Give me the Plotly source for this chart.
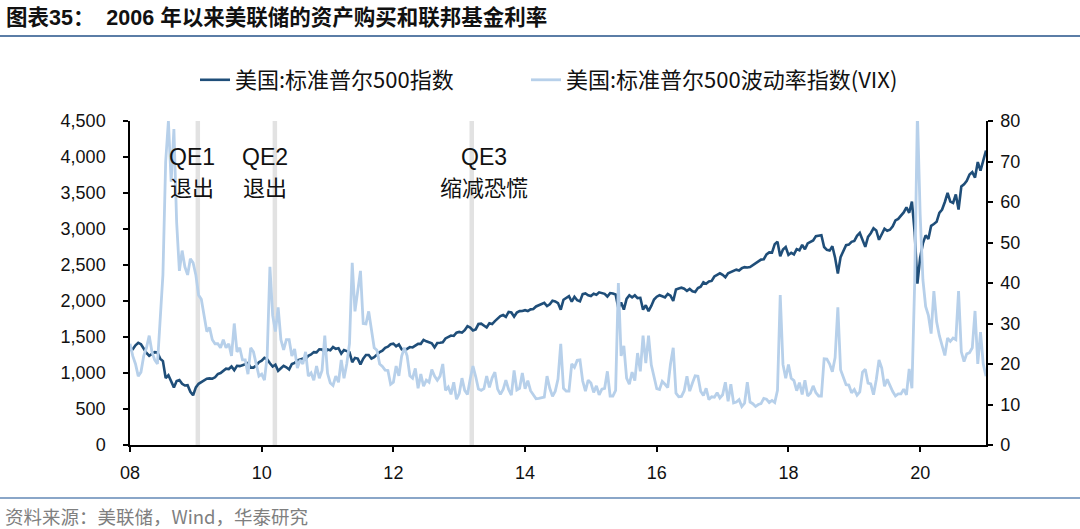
import plotly.graph_objects as go

# ---------------- data ----------------
start_year = 2008          # first sample sits on the "08" tick
steps_per_year = 24        # semi-monthly samples

# 美国:标准普尔500指数 (left axis)
spx = [
    # 2008
    1320, 1330, 1385, 1420, 1400, 1340, 1280, 1240, 1260, 1290, 1285, 1200, 1166, 930, 968, 880, 800, 890, 903,
    # 2009
    850, 826, 830, 740, 690, 800, 850, 870, 890, 920, 925, 920, 940, 985, 1000, 1025, 1060, 1055, 1090, 1040, 1100, 1095, 1105, 1120,
    # 2010
    1140, 1075, 1075, 1105, 1150, 1170, 1210, 1190, 1135, 1090, 1115, 1030, 1065, 1100, 1080, 1050, 1125, 1140, 1175, 1185, 1200, 1190, 1240, 1258,
    # 2011
    1290, 1286, 1330, 1327, 1280, 1326, 1315, 1360, 1335, 1345, 1270, 1320, 1310, 1290, 1150, 1210, 1200, 1120, 1200, 1250, 1250, 1200, 1220, 1257,
    # 2012
    1290, 1310, 1350, 1365, 1400, 1408, 1370, 1398, 1330, 1310, 1330, 1360, 1355, 1380, 1405, 1405, 1460, 1440, 1430, 1412, 1355, 1416, 1420, 1426,
    # 2013
    1480, 1500, 1520, 1515, 1560, 1570, 1560, 1595, 1650, 1630, 1590, 1606, 1680, 1685, 1660, 1632, 1690, 1680, 1720, 1756, 1790, 1805, 1780, 1848,
    # 2014
    1840, 1782, 1840, 1859, 1860, 1872, 1860, 1884, 1890, 1924, 1940, 1960, 1975, 1930, 1955, 2003, 1995, 1972, 1880, 2018, 2040, 2068, 1990, 2059,
    # 2015
    2010, 1995, 2095, 2105, 2080, 2068, 2100, 2086, 2120, 2107, 2100, 2063, 2110, 2104, 2090, 1900, 1980, 1881, 2030, 2079, 2050, 2080, 2040, 2044,
    # 2016
    1880, 1940, 1860, 1932, 2020, 2060, 2080, 2065, 2050, 2097, 2075, 2000, 2160, 2174, 2185, 2171, 2140, 2168, 2135, 2126, 2180, 2199, 2260, 2239,
    # 2017
    2270, 2279, 2340, 2364, 2385, 2363, 2330, 2384, 2400, 2412, 2435, 2423, 2455, 2470, 2465, 2471, 2500, 2519, 2555, 2575, 2580, 2647, 2675, 2673,
    # 2018
    2790, 2824, 2620, 2714, 2750, 2640, 2670, 2648, 2720, 2705, 2780, 2718, 2800, 2816, 2840, 2901, 2905, 2913, 2750, 2711, 2700, 2760, 2600, 2380,
    # 2019
    2610, 2704, 2775, 2784, 2822, 2834, 2905, 2945, 2850, 2752, 2890, 2941, 3010, 2980, 2850, 2926, 3005, 2976, 2990, 3037, 3120, 3141, 3190, 3230,
    # 2020
    3300, 3225, 3380, 2954, 2240, 2600, 2800, 2912, 2860, 3044, 3070, 3100, 3225, 3271, 3375, 3500, 3380, 3363, 3480, 3270, 3590, 3622, 3670, 3756,
    # 2021
    3790, 3714, 3930, 3811, 3950, 4090,
]

# 美国:标准普尔500波动率指数(VIX) (right axis)
vix = [
    # 2008
    25, 22, 20, 17, 18, 22, 24, 27, 23, 21, 20, 30, 42, 70, 80, 65, 78, 55, 43,
    # 2009
    48, 44, 42, 46, 45, 42, 37, 36, 32, 28, 29, 26, 25, 25, 24, 26, 24, 25, 22, 30, 23, 24, 21, 21,
    # 2010
    17.5, 24, 23, 20, 17, 17.5, 16, 22, 44, 32, 28, 34, 26, 23.5, 26, 26, 22, 23.7, 19, 21, 20, 23, 17, 17.8,
    # 2011
    16, 19.5, 16.5, 18.4, 27, 17.7, 15.3, 14.7, 17, 15.5, 21, 16.5, 20, 25, 45, 33, 38, 43, 30, 29.9, 33, 27.8, 24, 23.4,
    # 2012
    20, 19.4, 18.5, 18.4, 15, 15.5, 19.5, 17.1, 21.9, 24, 22, 17.1, 16.5, 18.9, 14, 17.5, 14.5, 16, 15.5, 18.6, 17, 16, 17, 20,
    # 2013
    13.5, 14.3, 12.5, 15.5, 11.3, 12.7, 16.5, 13.5, 12.5, 16.3, 19.5, 16.9, 13.8, 13.5, 13.9, 17, 14.2, 16.6, 18, 13.8, 12.5, 13.7, 16, 13.7,
    # 2014
    12.3, 18.4, 13.6, 14, 17.8, 13.9, 15.9, 13.4, 12.4, 11.4, 11.5, 11.6, 11.8, 17, 14, 12, 13.3, 16.3, 25, 14, 13.3, 13.3, 20, 19.2,
    # 2015
    20.9, 21, 15.8, 13.3, 16, 15.3, 13, 14.6, 12.4, 13.8, 14, 18.2, 12.1, 12.1, 13.5, 40, 22, 24.5, 16.5, 15, 18, 15.9, 22.7, 18.2,
    # 2016
    27, 20.2, 27, 19.8, 16.5, 13.9, 13.7, 15.7, 15, 14.2, 20, 24, 12.8, 11.9, 12, 13.4, 17, 13.3, 15.3, 17.1, 17, 13.3, 12.2, 14,
    # 2017
    11.2, 11.9, 11.8, 12.9, 11.6, 12.4, 15.5, 10.8, 15, 10.4, 10.6, 11.2, 9.5, 10.3, 15.5, 10.6, 10.2, 9.5, 10, 10.2, 11.5, 11.3, 10.5, 11,
    # 2018
    10.5, 13.5, 37, 19.9, 16.5, 19.9, 16.5, 15.9, 13.4, 15.4, 12.5, 16, 12.1, 12.8, 14.6, 12.9, 12.1, 12.1, 21.3, 21.2, 20, 18.1, 21.6, 34,
    # 2019
    18.6, 16.6, 14.9, 14.8, 12.9, 13.7, 12.3, 13.1, 18, 18.7, 15.3, 15.1, 12.4, 16.1, 21, 19, 14.5, 16.2, 14.6, 13.2, 12.1, 12.6, 12.6, 13.8,
    # 2020
    12.4, 18.8, 14, 40, 82, 57, 40.8, 34.2, 32, 27.5, 38, 30.4, 27, 24.5, 22.1, 26.4, 25.6, 26.4, 26, 38, 23, 20.6, 22.5, 22.8,
    # 2021
    24, 33.1, 20, 27.9, 20, 17,
]

x_tick_years = [2008, 2010, 2012, 2014, 2016, 2018, 2020]
x_tick_text = ["08", "10", "12", "14", "16", "18", "20"]
x_end_year = 2021

left_ticks = [0, 500, 1000, 1500, 2000, 2500, 3000, 3500, 4000, 4500]
right_ticks = [0, 10, 20, 30, 40, 50, 60, 70, 80]

qe_names = ["QE1", "QE2", "QE3"]
qe_notes = ["退出", "退出", "缩减恐慌"]
qe_band_years = [2009.03, 2010.20, 2013.19]
qe_label_years = [2008.94, 2010.05, 2013.37]

series_names = ["美国:标准普尔500指数", "美国:标准普尔500波动率指数(VIX)"]
title_text = "图表35：  2006 年以来美联储的资产购买和联邦基金利率"
source_text = "资料来源：美联储，Wind，华泰研究"

# ---------------- figure ----------------
t_spx = [start_year + i / steps_per_year for i in range(len(spx))]
t_vix = [start_year + i / steps_per_year for i in range(len(vix))]

LAT = "Liberation Sans, Arial, Noto Sans CJK SC"
CJK = "Noto Sans CJK SC, Liberation Sans"
W, H = 1080, 529
ML, MR, MT, MB = 130, 94, 121, 84
PW, PH = W - ML - MR, H - MT - MB


def px_to_paper_x(px):
    return (px - ML) / PW


def px_to_paper_y(py):
    return (H - MB - py) / PH


fig = go.Figure()
fig.add_trace(go.Scatter(
    x=t_spx, y=spx, name=series_names[0], mode="lines",
    line=dict(color="#1F4E79", width=2.6), yaxis="y", legend="legend",
))
fig.add_trace(go.Scatter(
    x=t_vix, y=vix, name=series_names[1], mode="lines",
    line=dict(color="#B7D0EA", width=2.8), yaxis="y2", legend="legend2",
))

shapes = []
for yr in qe_band_years:
    shapes.append(dict(type="rect", xref="x", yref="paper", x0=yr - 0.034, x1=yr + 0.034,
                       y0=0, y1=1, fillcolor="#E2E2E2", line=dict(width=0), layer="below"))
# header rule and footer rule
shapes.append(dict(type="line", xref="paper", yref="paper",
                   x0=px_to_paper_x(0), x1=px_to_paper_x(W),
                   y0=px_to_paper_y(36), y1=px_to_paper_y(36),
                   line=dict(color="#5B7DA6", width=2)))
shapes.append(dict(type="line", xref="paper", yref="paper",
                   x0=px_to_paper_x(0), x1=px_to_paper_x(W),
                   y0=px_to_paper_y(498), y1=px_to_paper_y(498),
                   line=dict(color="#8AA6C8", width=2)))

annotations = []
for name, note, lx in zip(qe_names, qe_notes, qe_label_years):
    annotations.append(dict(x=lx, y=px_to_paper_y(157), xref="x", yref="paper", text=name,
                            showarrow=False, font=dict(family=LAT, size=23, color="#111"),
                            xanchor="center", yanchor="middle"))
    annotations.append(dict(x=lx, y=px_to_paper_y(186), xref="x", yref="paper", text=note,
                            showarrow=False, font=dict(family=CJK, size=22, color="#111"),
                            xanchor="center", yanchor="middle"))
annotations.append(dict(x=px_to_paper_x(4), y=px_to_paper_y(18), xref="paper", yref="paper",
                        text="<b>" + title_text + "</b>", showarrow=False,
                        font=dict(family=LAT, size=21.5, color="#111"),
                        xanchor="left", yanchor="middle"))
annotations.append(dict(x=px_to_paper_x(3), y=px_to_paper_y(516), xref="paper", yref="paper",
                        text=source_text, showarrow=False,
                        font=dict(family=CJK, size=18.5, color="#7F7F7F"),
                        xanchor="left", yanchor="middle"))

axis_common = dict(showline=True, linecolor="#000", linewidth=1.5, ticks="outside",
                   ticklen=5, tickwidth=1.5, tickcolor="#000", showgrid=False, zeroline=False,
                   tickfont=dict(family=LAT, size=18, color="#111"))

legend_common = dict(orientation="h", y=px_to_paper_y(80), xanchor="left", yanchor="middle",
                     font=dict(family=CJK, size=22, color="#111"), bgcolor="rgba(0,0,0,0)")

fig.update_layout(
    width=W, height=H, autosize=False,
    margin=dict(l=ML, r=MR, t=MT, b=MB, pad=0),
    paper_bgcolor="white", plot_bgcolor="white",
    showlegend=True,
    legend=dict(x=px_to_paper_x(195), **legend_common),
    legend2=dict(x=px_to_paper_x(526), **legend_common),
    xaxis=dict(range=[start_year, x_end_year], tickvals=x_tick_years, ticktext=x_tick_text,
               ticklabelstandoff=6, **axis_common),
    yaxis=dict(range=[left_ticks[0], left_ticks[-1]], tickvals=left_ticks, tickformat=",d",
               ticklabelstandoff=14, **axis_common),
    yaxis2=dict(range=[right_ticks[0], right_ticks[-1]], tickvals=right_ticks, overlaying="y",
                side="right", ticklabelstandoff=4, **axis_common),
    shapes=shapes, annotations=annotations,
)

fig.write_html("out.html")
